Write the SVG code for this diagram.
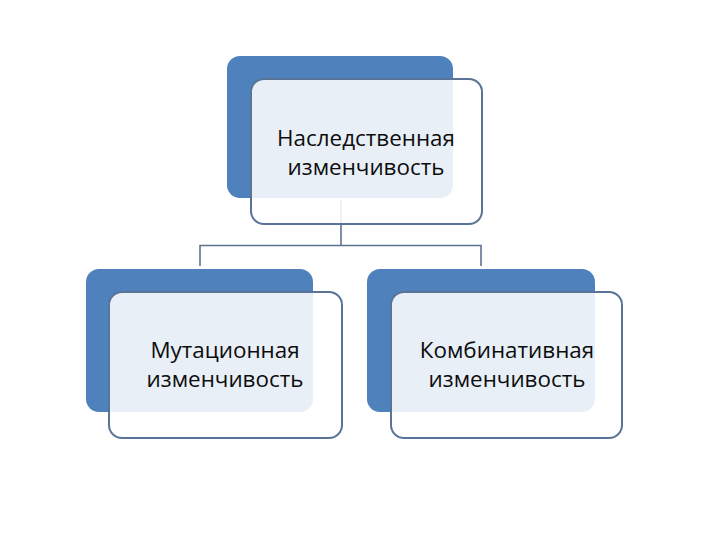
<svg xmlns="http://www.w3.org/2000/svg" width="720" height="540" viewBox="0 0 720 540">
<style>
.back{fill:#4f81bd}
.front{fill:#ffffff;fill-opacity:0.87;stroke:#5a7498;stroke-width:2}
.conn{fill:none;stroke:#5f7391;stroke-width:1.6}
text{font-family:"Open Sans","Liberation Sans",Arial,sans-serif;font-size:22.4px;fill:#0d0d0d;text-anchor:middle}
</style>
<rect width="720" height="540" fill="#ffffff"/>
<g id="connectors">
<path class="conn" d="M341 200 V245.5 M200 266 V245.5 H481 V266"/>
</g>
<g id="node-top">
<rect class="back" x="227" y="56" width="226" height="142" rx="13"/>
<rect class="front" x="251" y="79" width="231" height="145" rx="13"/>
<text x="366" y="145.5">Наследственная</text>
<text x="366" y="174.5">изменчивость</text>
</g>
<g id="node-left">
<rect class="back" x="86" y="269" width="227" height="143" rx="13"/>
<rect class="front" x="109" y="292" width="233" height="146" rx="13"/>
<text x="225" y="358">Мутационная</text>
<text x="225" y="387">изменчивость</text>
</g>
<g id="node-right">
<rect class="back" x="367" y="269" width="228" height="143" rx="13"/>
<rect class="front" x="391" y="292" width="231" height="146" rx="13"/>
<text x="507" y="358">Комбинативная</text>
<text x="507" y="387">изменчивость</text>
</g>
</svg>
